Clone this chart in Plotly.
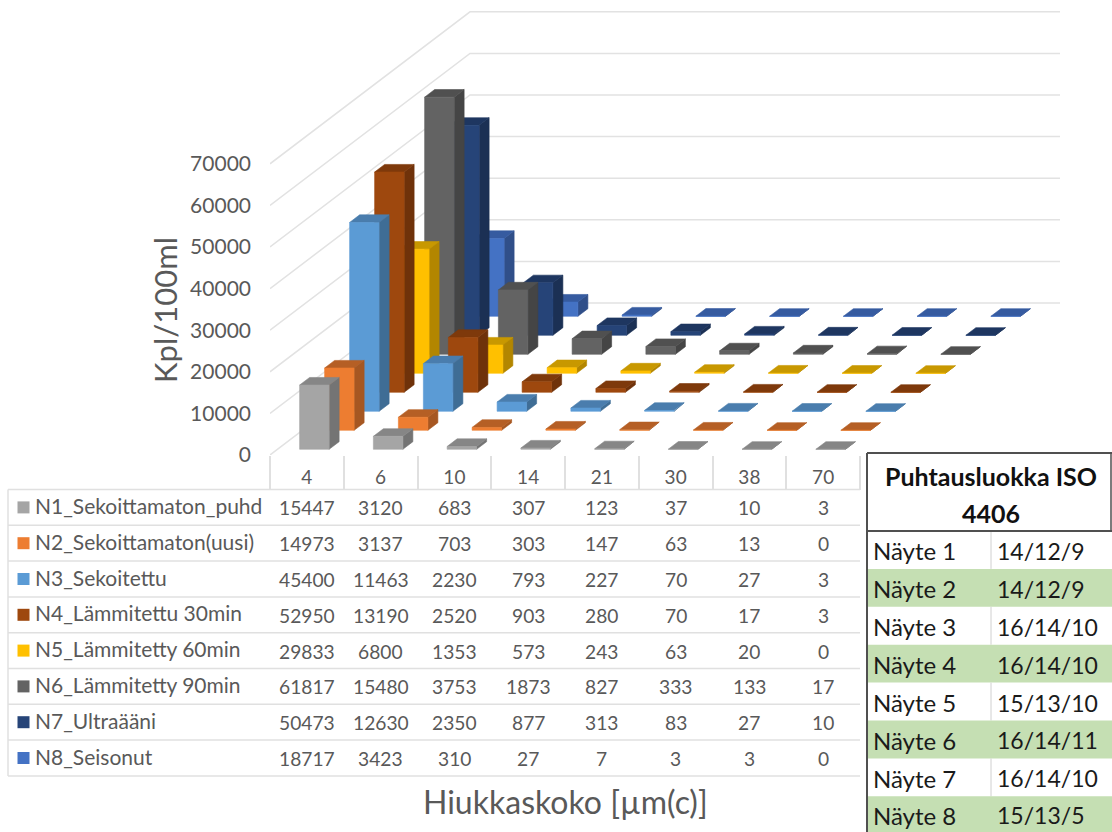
import plotly.graph_objects as go

# ---------- data ----------
sizes = ["4", "6", "10", "14", "21", "30", "38", "70"]
series_names = ["N1_Sekoittamaton_puhd", "N2_Sekoittamaton(uusi)", "N3_Sekoitettu", "N4_Lämmitettu 30min",
                "N5_Lämmitetty 60min", "N6_Lämmitetty 90min", "N7_Ultraääni", "N8_Seisonut"]
n1 = [15447, 3120, 683, 307, 123, 37, 10, 3]
n2 = [14973, 3137, 703, 303, 147, 63, 13, 0]
n3 = [45400, 11463, 2230, 793, 227, 70, 27, 3]
n4 = [52950, 13190, 2520, 903, 280, 70, 17, 3]
n5 = [29833, 6800, 1353, 573, 243, 63, 20, 0]
n6 = [61817, 15480, 3753, 1873, 827, 333, 133, 17]
n7 = [50473, 12630, 2350, 877, 313, 83, 27, 10]
n8 = [18717, 3423, 310, 27, 7, 3, 3, 0]
all_series = [n1, n2, n3, n4, n5, n6, n7, n8]
value_ticks = [0, 10000, 20000, 30000, 40000, 50000, 60000, 70000]

iso_samples = ["Näyte 1", "Näyte 2", "Näyte 3", "Näyte 4", "Näyte 5", "Näyte 6", "Näyte 7", "Näyte 8"]
iso_codes = ["14/12/9", "14/12/9", "16/14/10", "16/14/10", "15/13/10", "16/14/11", "16/14/10", "15/13/5"]

# ---------- styles (front, side, top) ----------
front = ["#A5A5A5", "#ED7D31", "#5B9BD5", "#9E480E", "#FFC000", "#636363", "#264478", "#4472C4"]
side = ["#747474", "#A65722", "#3F6D95", "#6F320A", "#B38600", "#454545", "#1B3054", "#304F89"]
top = ["#868686", "#B55F25", "#4A7DAD", "#7E390B", "#C89800", "#505050", "#1E3660", "#365BA0"]
GRID = "#E2E2E2"
TXT = "#595959"
FONT = "Lato"
W, H = 1112, 832

# ---------- oblique projection, in axis units ----------
PX_CAT = 73.75
PX_VAL = 41.6 / 10000
X0, Y0 = 270, 455
ROW_DX = 25 / PX_CAT
ROW_DY = 19 / PX_VAL
GAP = 0.3


def px(x):
    return x / W


def py(y):
    return 1 - y / H


def poly(points):
    xs = [p[0] + p[2] * ROW_DX for p in points]
    ys = [p[1] + p[2] * ROW_DY for p in points]
    return xs + [xs[0], None], ys + [ys[0], None]


fig = go.Figure()


def add_face(xs, ys, color, name):
    fig.add_trace(go.Scatter(x=xs, y=ys, mode="lines", fill="toself", fillcolor=color, line=dict(width=0.6, color=color),
                             name=name, showlegend=False, hoverinfo="skip", cliponaxis=False))


# walls: gridlines run from the front edge to the back wall, then along it
for v in value_ticks:
    fig.add_trace(go.Scatter(x=[0, 8 * ROW_DX, 8 + 8 * ROW_DX], y=[v, v + 8 * ROW_DY, v + 8 * ROW_DY], mode="lines",
                             line=dict(color=GRID, width=1.5), showlegend=False, hoverinfo="skip", cliponaxis=False))

# bars, back row first
for s in range(7, -1, -1):
    fx, fy, sx, sy, tx, ty = [], [], [], [], [], []
    d0, d1 = s + GAP, s + 1 - GAP
    for c, v in enumerate(all_series[s]):
        c0, c1 = c + GAP, c + 1 - GAP
        a, b = poly([(c0, 0, d0), (c1, 0, d0), (c1, v, d0), (c0, v, d0)])
        fx += a; fy += b
        a, b = poly([(c1, 0, d0), (c1, 0, d1), (c1, v, d1), (c1, v, d0)])
        sx += a; sy += b
        a, b = poly([(c0, v, d0), (c1, v, d0), (c1, v, d1), (c0, v, d1)])
        tx += a; ty += b
    add_face(sx, sy, side[s], series_names[s])
    add_face(tx, ty, top[s], series_names[s])
    add_face(fx, fy, front[s], series_names[s])

shapes, ann = [], []


def line(x0, y0, x1, y1, color="#E0E0E0", width=1.5):
    shapes.append(dict(type="line", xref="paper", yref="paper", x0=px(x0), y0=py(y0), x1=px(x1), y1=py(y1),
                       line=dict(color=color, width=width), layer="above"))


def text(x, y, s, size, color=TXT, anchor="center", xref="paper", **kw):
    ann.append(dict(x=px(x) if xref == "paper" else x, y=py(y), xref=xref, yref="paper", text=s, showarrow=False,
                    xanchor=anchor, yanchor="middle", font=dict(family=FONT, size=size, color=color), **kw))


# data table under the chart
T_TOP, T_ROW = 489.5, 35.8
T_LEFT = 8
for r in range(9):
    line(T_LEFT, T_TOP + r * T_ROW, 860, T_TOP + r * T_ROW)
line(T_LEFT, T_TOP, T_LEFT, T_TOP + 8 * T_ROW)
for s, name in enumerate(series_names):
    yc = T_TOP + (s + 0.5) * T_ROW
    shapes.append(dict(type="rect", xref="paper", yref="paper", x0=px(17.5), x1=px(29.5), y0=py(yc - 6), y1=py(yc + 6),
                       fillcolor=front[s], line=dict(width=0), layer="above"))
    text(33, yc - 2, name, 21, anchor="left")
    for c, v in enumerate(all_series[s]):
        text(c + 0.5, yc + 0.5, str(v), 19.2, xref="x")
text(565, 801, "Hiukkaskoko [µm(c)]", 32)
text(165, 310, "Kpl/100ml", 31, textangle=-90)

# cleanliness table
RT_L, RT_TOP, RT_HEAD, RT_MID, RT_ROW = 867, 453, 531, 991, 37.9
for i, (sample, code) in enumerate(zip(iso_samples, iso_codes)):
    y0 = RT_HEAD + i * RT_ROW
    if i % 2:
        shapes.append(dict(type="rect", xref="paper", yref="paper", x0=px(RT_L), x1=1, y0=py(y0), y1=py(min(y0 + RT_ROW, H)),
                           fillcolor="#C5DFB3", line=dict(width=0), layer="above"))
    else:
        line(RT_MID, y0, RT_MID, y0 + RT_ROW, "#D0D0D0", 1)
    text(871, y0 + RT_ROW / 2 + (0 if i == 7 else 1), sample, 24, "#1A1A1A", "left")
    text(995, y0 + RT_ROW / 2 + (0 if i == 7 else 1), code, 23, "#1A1A1A", "left")
text(991, 476, "<b>Puhtausluokka ISO</b>", 25, "#111111")
text(991, 513, "<b>4406</b>", 25, "#111111")
line(RT_L, RT_TOP, RT_L, H, "#505050", 2)
line(RT_L, RT_TOP, W, RT_TOP, "#505050", 2)
line(RT_L, RT_HEAD, W, RT_HEAD, "#505050", 2)
line(W - 1, RT_TOP, W - 1, RT_HEAD, "#505050", 1.5)

fig.update_layout(
    width=W, height=H, autosize=False, paper_bgcolor="white", plot_bgcolor="rgba(0,0,0,0)", showlegend=False,
    margin=dict(l=0, r=0, t=0, b=0, autoexpand=False), font=dict(family=FONT, color=TXT), shapes=shapes, annotations=ann,
    xaxis=dict(domain=[px(X0), 1], range=[0, (W - X0) / PX_CAT], showgrid=False, zeroline=False, showline=False,
               tickvals=[i + 0.5 for i in range(len(sizes))], ticktext=sizes, ticks="", ticklabelstandoff=9,
               tickfont=dict(family=FONT, size=19, color=TXT),
               minor=dict(tickvals=list(range(len(sizes) + 1)), ticks="outside", ticklen=34, tickcolor="#E0E0E0", tickwidth=1.5)),
    yaxis=dict(domain=[py(Y0), 1], range=[0, Y0 / PX_VAL], showgrid=False, zeroline=False, showline=False,
               tickvals=value_ticks, tickformat="d", ticks="", ticklabelstandoff=18, tickfont=dict(family=FONT, size=21, color=TXT)),
)
fig.write_html("out.html", post_script="document.body.style.margin='0';", config={"displayModeBar": False})
